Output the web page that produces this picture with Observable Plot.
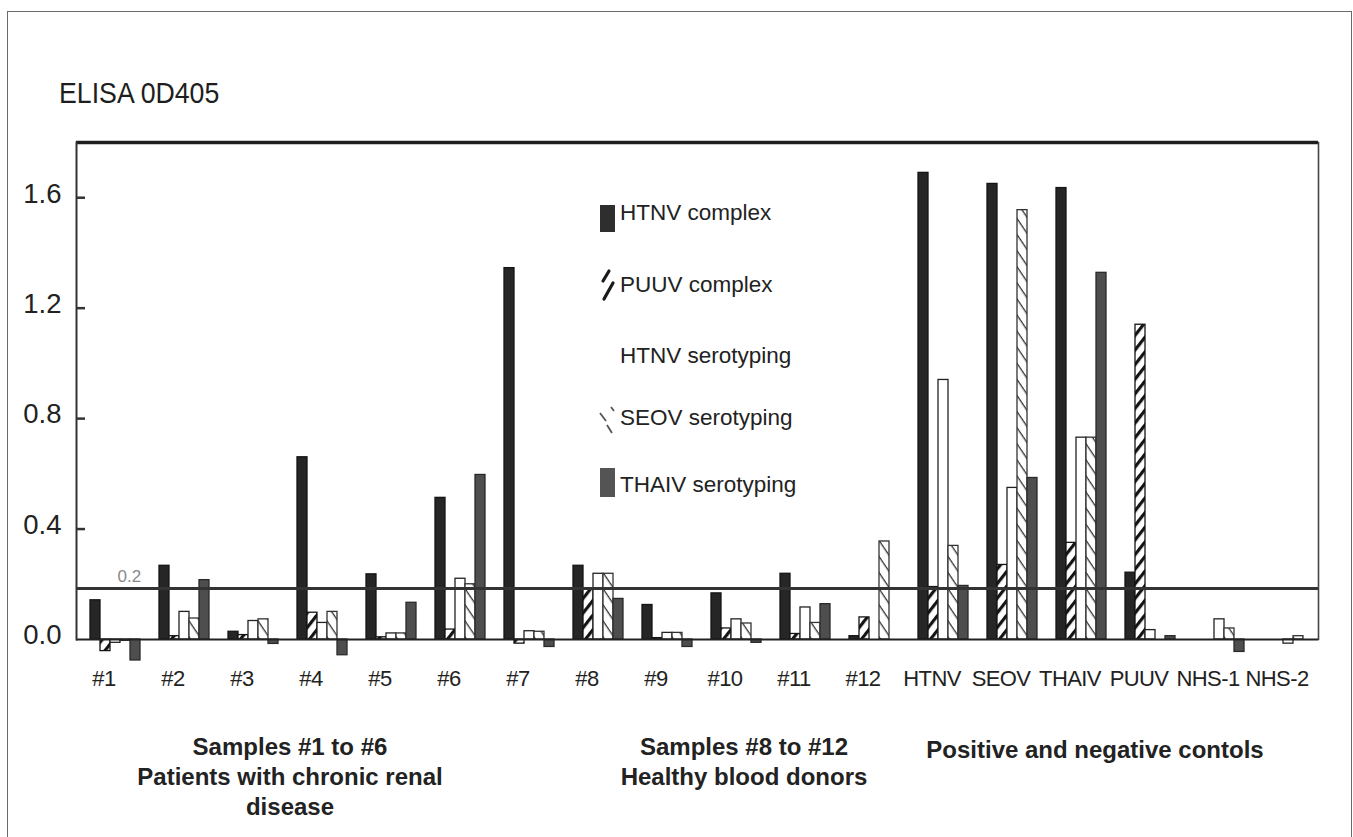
<!DOCTYPE html>
<html>
<head>
<meta charset="utf-8">
<script src="https://cdn.jsdelivr.net/npm/d3@7"></script>
<script src="https://cdn.jsdelivr.net/npm/@observablehq/plot@0.6"></script>
<style>
  html, body { margin: 0; padding: 0; background: #fff; }
  body { font-family: "Liberation Sans", Arial, Helvetica, sans-serif; color: #222; }
  #wrap { position: relative; width: 1353px; height: 837px; overflow: hidden; background: #fff; }
  #border { position: absolute; left: 7px; top: 11px; width: 1345px; height: 860px; border: 1px solid #6a6a6a; box-sizing: border-box; }
  #chart { position: absolute; left: 0; top: 0; }
  #title { position: absolute; left: 59px; top: 78px; font-size: 30px; line-height: 30px; white-space: nowrap; transform: scaleX(0.89); transform-origin: left top; color: #1e1e1e; }
  .leg-sw { position: absolute; left: 599px; }
  .leg-tx { position: absolute; left: 620px; font-size: 22.5px; line-height: 22.5px; white-space: nowrap; color: #222; }
  .cap { position: absolute; width: 520px; text-align: center; font-weight: bold; font-size: 24px; line-height: 30px; color: #222; }
  #chart svg g[aria-label="fx-axis tick label"] text { letter-spacing: -0.6px; }
</style>
</head>
<body>
<div id="wrap">
  <div id="border"></div>
  <div id="chart"></div>
  <div id="title">ELISA 0D405</div>
  <div id="legend"></div>
  <div id="captions"></div>
</div>
<script>
// ---- data ----
const categories = ["#1","#2","#3","#4","#5","#6","#7","#8","#9","#10","#11","#12","HTNV","SEOV","THAIV","PUUV","NHS-1","NHS-2"];
const series = ["HTNV complex","PUUV complex","HTNV serotyping","SEOV serotyping","THAIV serotyping"];
const htnvComplex     = [0.142, 0.267, 0.028, 0.660, 0.236, 0.513, 1.345, 0.267, 0.125, 0.167, 0.238, 0.012, 1.690, 1.650, 1.635, 0.242, 0.000, 0.000];
const puuvComplex     = [-0.042, 0.012, 0.016, 0.097, 0.008, 0.036, -0.015, 0.185, 0.005, 0.040, 0.020, 0.080, 0.190, 0.270, 0.350, 1.140, 0.000, 0.000];
const htnvSerotyping  = [-0.012, 0.100, 0.067, 0.060, 0.022, 0.220, 0.030, 0.238, 0.024, 0.073, 0.116, 0.000, 0.940, 0.549, 0.731, 0.034, 0.073, -0.015];
const seovSerotyping  = [-0.005, 0.076, 0.073, 0.100, 0.022, 0.200, 0.028, 0.238, 0.024, 0.058, 0.060, 0.355, 0.339, 1.555, 0.731, 0.000, 0.040, 0.012];
const thaivSerotyping = [-0.076, 0.215, -0.016, -0.057, 0.133, 0.596, -0.027, 0.147, -0.027, -0.012, 0.128, 0.000, 0.194, 0.585, 1.328, 0.012, -0.045, 0.000];
const yTicks = [0, 0.4, 0.8, 1.2, 1.6];
const yMax = 1.8;
const cutoff = [0.185];
const cutoffNote = [{category: "#1", value: 0.185, label: "0.2"}];
const groupCaptions = [
  {lines: ["Samples #1 to #6", "Patients with chronic renal", "disease"]},
  {lines: ["Samples #8 to #12", "Healthy blood donors"]},
  {lines: ["Positive and negative contols"]}
];

// ---- build table ----
const seriesValues = [htnvComplex, puuvComplex, htnvSerotyping, seovSerotyping, thaivSerotyping];
const table = [];
series.forEach((s, j) => categories.forEach((c, i) => table.push({category: c, series: s, value: seriesValues[j][i]})));

const fills = {
  "HTNV complex": "#262626",
  "PUUV complex": "url(#hatchPuuv)",
  "HTNV serotyping": "#ffffff",
  "SEOV serotyping": "url(#hatchSeov)",
  "THAIV serotyping": "#4e4e4e"
};
const strokes = {
  "HTNV complex": "#151515",
  "PUUV complex": "#151515",
  "HTNV serotyping": "#222",
  "SEOV serotyping": "#333",
  "THAIV serotyping": "#2a2a2a"
};

const font = '"Liberation Sans", Arial, Helvetica, sans-serif';

const chart = Plot.plot({
  width: 1353,
  height: 720,
  marginLeft: 70,
  marginRight: 30,
  marginTop: 142,
  marginBottom: 81,
  style: {fontFamily: font, background: "transparent", color: "#222", overflow: "visible"},
  fx: {domain: categories, padding: 0, axis: null, label: null},
  x: {domain: series, paddingInner: 0, paddingOuter: 0.765, align: 0.72, axis: null},
  y: {domain: [0, yMax], axis: null, label: null},
  marks: [
    ...series.map(s => Plot.barY(table.filter(d => d.series === s), {
      fx: "category", x: "series", y: "value",
      fill: fills[s], stroke: strokes[s], strokeWidth: 1.3
    })),
    Plot.ruleY([0], {stroke: "#222", strokeWidth: 2}),
    Plot.ruleY(cutoff, {stroke: "#333", strokeWidth: 3}),
    Plot.ruleY([yMax], {stroke: "#1e1e1e", strokeWidth: 3.5}),
    Plot.frame({anchor: "left", facetAnchor: "left", stroke: "#333", strokeWidth: 2}),
    Plot.frame({anchor: "right", facetAnchor: "right", stroke: "#444", strokeWidth: 1.6}),
    // inward tick marks on the left axis
    Plot.tickY(yTicks.filter(d => d > 0), {facetAnchor: "left", insetRight: 60, stroke: "#333", strokeWidth: 2.5}),
    Plot.axisY(yTicks, {anchor: "left", label: null, tickSize: 0, tickPadding: 15, dy: -4,
      tickFormat: d3.format(".1f"), fontSize: 27.5, fill: "#222"}),
    Plot.axisFx({anchor: "bottom", label: null, tickSize: 0, tickPadding: 31, dx: -7, fontSize: 22, fill: "#222"}),
    Plot.text(cutoffNote, {fx: "category", y: "value", text: "label", frameAnchor: "left", dx: 41, dy: -6,
      lineAnchor: "bottom", fill: "#8a8a8a", fontSize: 17})
  ]
});

// patterns for hatched bars
chart.insertAdjacentHTML("afterbegin", `
<defs>
  <pattern id="hatchPuuv" patternUnits="userSpaceOnUse" width="9" height="9" patternTransform="rotate(-52)">
    <rect width="9" height="9" fill="#fff"/>
    <rect x="0" y="0" width="9" height="3.2" fill="#141414"/>
  </pattern>
  <pattern id="hatchSeov" patternUnits="userSpaceOnUse" width="9" height="9" patternTransform="rotate(56)">
    <rect width="9" height="9" fill="#fff"/>
    <rect x="0" y="0" width="9" height="1.3" fill="#333"/>
  </pattern>
</defs>`);

document.getElementById("chart").appendChild(chart);

// ---- legend (HTML overlay) ----
const legendRows = [
  {name: series[0], textTop: 202, sw: `<svg width="17" height="28"><rect x="1" y="0" width="15" height="27" fill="#2e2e2e"/></svg>`, swTop: 205},
  {name: series[1], textTop: 274, sw: `<svg width="17" height="34"><path d="M4,13 L10,3 M5,31 L14,15" stroke="#1a1a1a" stroke-width="3.2" stroke-linecap="round" fill="none"/></svg>`, swTop: 268},
  {name: series[2], textTop: 345, sw: `<svg width="17" height="28"><rect x="1" y="0" width="15" height="27" fill="#fff"/></svg>`, swTop: 340},
  {name: series[3], textTop: 407, sw: `<svg width="18" height="30"><path d="M1,8 L7,16 M8,20 L13,28 M12,2 L15,6" stroke="#555" stroke-width="1.8" fill="none"/></svg>`, swTop: 405},
  {name: series[4], textTop: 474, sw: `<svg width="17" height="30"><rect x="1" y="0" width="15" height="29" fill="#545454"/></svg>`, swTop: 468}
];
const legend = document.getElementById("legend");
legendRows.forEach(r => {
  const sw = document.createElement("div");
  sw.className = "leg-sw"; sw.style.top = r.swTop + "px"; sw.innerHTML = r.sw;
  const tx = document.createElement("div");
  tx.className = "leg-tx"; tx.style.top = r.textTop + "px"; tx.textContent = r.name;
  legend.appendChild(sw); legend.appendChild(tx);
});

// ---- group captions ----
const capPos = [{cx: 290, top: 732}, {cx: 744, top: 732}, {cx: 1095, top: 735}];
const caps = document.getElementById("captions");
groupCaptions.forEach((g, i) => {
  const d = document.createElement("div");
  d.className = "cap";
  d.style.left = (capPos[i].cx - 260) + "px";
  d.style.top = capPos[i].top + "px";
  d.innerHTML = g.lines.join("<br>");
  caps.appendChild(d);
});
</script>
</body>
</html>
